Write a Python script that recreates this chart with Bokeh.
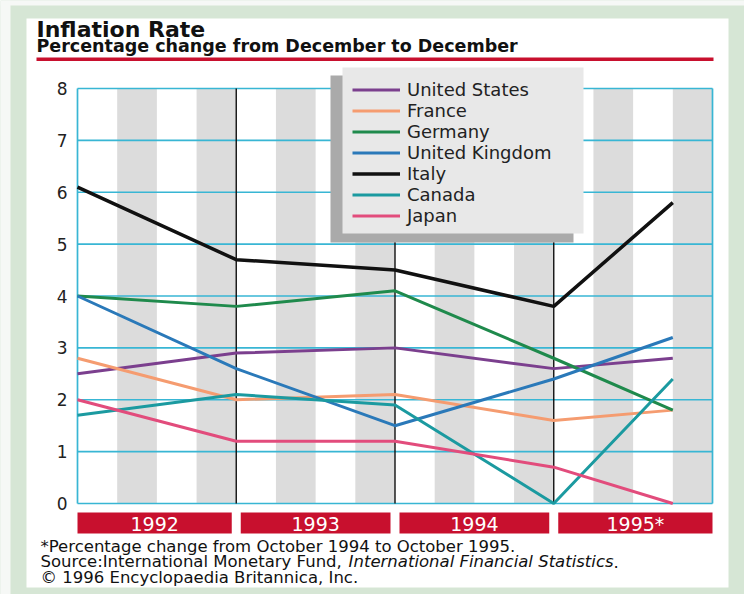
from bokeh.plotting import figure
from bokeh.models import Range1d
from bokeh.embed import file_html
from bokeh.resources import INLINE
from bokeh.core.properties import value

# ---------------- data ----------------
periods = ["Dec 1991", "Dec 1992", "Dec 1993", "Dec 1994", "Oct 1995"]
period_x = [1992.0, 1993.0, 1994.0, 1995.0, 1995.75]
united_states = [2.5, 2.9, 3.0, 2.6, 2.8]
france = [2.8, 2.0, 2.1, 1.6, 1.8]
germany = [4.0, 3.8, 4.1, 2.8, 1.8]
united_kingdom = [4.0, 2.6, 1.5, 2.4, 3.2]
italy = [6.1, 4.7, 4.5, 3.8, 5.8]
canada = [1.7, 2.1, 1.9, 0.0, 2.4]
japan = [2.0, 1.2, 1.2, 0.7, 0.0]
year_starts = [1992, 1993, 1994, 1995]
year_labels = ["1992", "1993", "1994", "1995*"]
y_ticks = [0, 1, 2, 3, 4, 5, 6, 7, 8]

title_text = "Inflation Rate"
subtitle_text = "Percentage change from December to December"
note_1 = "*Percentage change from October 1994 to October 1995."
note_2a = "Source:International Monetary Fund, "
note_2b = "International Financial Statistics"
note_2c = "."
note_3 = "\u00a9 1996 Encyclopaedia Britannica, Inc."

# ---------------- layout ----------------
W, H = 744, 594
PL, PR, PT, PB = 77, 712, 88, 503
X0, X1, Y0, Y1 = 1992.0, 1996.0, 0.0, 8.0
sx = (PR - PL) / (X1 - X0)
sy = (PB - PT) / (Y1 - Y0)


def X(rx):
    return X0 + (rx - PL) / sx


def Y(ry):
    return Y0 + (PB - ry) / sy


FONT = value("DejaVu Sans")
GREEN = "#d6e6d5"
RED = "#c8102e"
CYAN = "#38b6d4"
STRIPE = "#dcdcdc"

p = figure(width=W, height=H, x_range=Range1d(X(0), X(W)),
           y_range=Range1d(Y(H), Y(0)), output_backend="svg",
           toolbar_location=None, tools="", x_axis_type=None,
           y_axis_type=None, min_border=0)
p.outline_line_color = None
p.background_fill_color = GREEN
p.border_fill_color = GREEN
for g in p.grid:
    g.visible = False

# outer whitish edge and white panel
p.quad(left=[X(0)], right=[X(10)], bottom=[Y(594)], top=[Y(0)],
       fill_color="#f6f8f6", line_color=None)
p.quad(left=[X(0)], right=[X(744)], bottom=[Y(5)], top=[Y(0)],
       fill_color="#f6f8f6", line_color=None)
p.quad(left=[X(26)], right=[X(728)], bottom=[Y(587)], top=[Y(18)],
       fill_color="white", line_color=None)

# title, subtitle, rule
p.text(x=[X(36)], y=[Y(28.5)], text=[title_text], text_font=FONT,
       text_font_size=value("22px"), text_font_style="bold",
       text_color="#111111", text_align="left", text_baseline="middle")
p.text(x=[X(36)], y=[Y(45)], text=[subtitle_text], text_font=FONT,
       text_font_size=value("17.5px"), text_font_style="bold",
       text_color="#111111", text_align="left", text_baseline="middle")
p.quad(left=[X(36)], right=[X(713)], bottom=[Y(60.5)], top=[Y(57)],
       fill_color=RED, line_color=None)

# quarter stripes
sl, sr = [], []
for s in year_starts:
    sl += [s + 0.25, s + 0.75]
    sr += [s + 0.5, s + 1.0]
p.quad(left=sl, right=sr, bottom=[Y0] * len(sl), top=[Y1] * len(sl),
       fill_color=STRIPE, line_color=None)

# grid lines
p.segment(x0=[X0] * len(y_ticks), x1=[X1] * len(y_ticks), y0=y_ticks,
          y1=y_ticks, line_color=CYAN, line_width=1.7)
p.segment(x0=[X0, X1], x1=[X0, X1], y0=[Y0, Y0], y1=[Y1, Y1],
          line_color=CYAN, line_width=1.7)
inner = year_starts[1:]
p.segment(x0=inner, x1=inner, y0=[Y0] * len(inner), y1=[Y1] * len(inner),
          line_color="#111111", line_width=1.4)

# y tick labels
p.text(x=[X(67)] * len(y_ticks), y=y_ticks, text=[str(t) for t in y_ticks],
       text_font=FONT, text_font_size=value("17px"), text_color="#222222",
       text_align="right", text_baseline="middle")

# year boxes
hg = 4.5 / sx
bl = [s + (hg if i > 0 else 0) for i, s in enumerate(year_starts)]
br = [s + 1 - (hg if i < len(year_starts) - 1 else 0) for i, s in enumerate(year_starts)]
p.quad(left=bl, right=br, bottom=[Y(533)] * 4, top=[Y(512)] * 4,
       fill_color=RED, line_color=None)
p.text(x=[(a + b) / 2 for a, b in zip(bl, br)], y=[Y(523)] * 4,
       text=year_labels, text_font=FONT, text_font_size=value("19px"),
       text_color="white", text_align="center", text_baseline="middle")

# legend shadow and panel
p.quad(left=[X(330)], right=[X(573)], bottom=[Y(242)], top=[Y(75)],
       fill_color="#aaaaaa", line_color=None)
p.quad(left=[X(342)], right=[X(583)], bottom=[Y(233)], top=[Y(67)],
       fill_color="#e8e8e8", line_color=None)

# data lines
series = [
    ("United States", united_states, "#7b3f8e", 3),
    ("France", france, "#f59c70", 3),
    ("Germany", germany, "#1f8a4c", 3),
    ("United Kingdom", united_kingdom, "#2a79b9", 3),
    ("Italy", italy, "#111111", 3.5),
    ("Canada", canada, "#1b9aa0", 3),
    ("Japan", japan, "#e24c7c", 3),
]
for name, vals, col, lw in series:
    p.line(period_x, vals, line_color=col, line_width=lw, legend_label=name)

leg = p.legend[0]
leg.location = (352, H - 226)
leg.background_fill_alpha = 0
leg.border_line_color = None
leg.padding = 0
leg.margin = 0
leg.spacing = 0
leg.glyph_width = 48
leg.glyph_height = 21
leg.label_height = 21
leg.label_standoff = 7
leg.label_text_font = "DejaVu Sans"
leg.label_text_font_size = "18px"
leg.label_text_color = "#222222"

# footnotes
ADV = {' ': 651, ',': 651, '.': 651, ':': 690, 'S': 1300, 'I': 604, 'M': 1767,
       'F': 1178, 'a': 1255, 'c': 1126, 'd': 1300, 'e': 1260, 'f': 721,
       'i': 569, 'l': 569, 'n': 1298, 'o': 1253, 'r': 842, 's': 1067,
       't': 803, 'u': 1298, 'y': 1212}
NFS = 16.5


def tw(s):
    return sum(ADV.get(ch, 1250) for ch in s) / 2048 * NFS


fx = 40
note_style = dict(text_font=FONT, text_font_size=value(f"{NFS}px"),
                  text_color="#111111", text_align="left",
                  text_baseline="middle")
p.text(x=[X(fx)], y=[Y(545.5)], text=[note_1], **note_style)
w_a = tw(note_2a)
w_b = tw(note_2b)
p.text(x=[X(fx)], y=[Y(561)], text=[note_2a], **note_style)
p.text(x=[X(fx + w_a)], y=[Y(561)], text=[note_2b], text_font_style="italic",
       **note_style)
p.text(x=[X(fx + w_a + w_b)], y=[Y(561)], text=[note_2c], **note_style)
p.text(x=[X(fx)], y=[Y(576.5)], text=[note_3], **note_style)

open("out.html", "w").write(file_html(p, INLINE))
